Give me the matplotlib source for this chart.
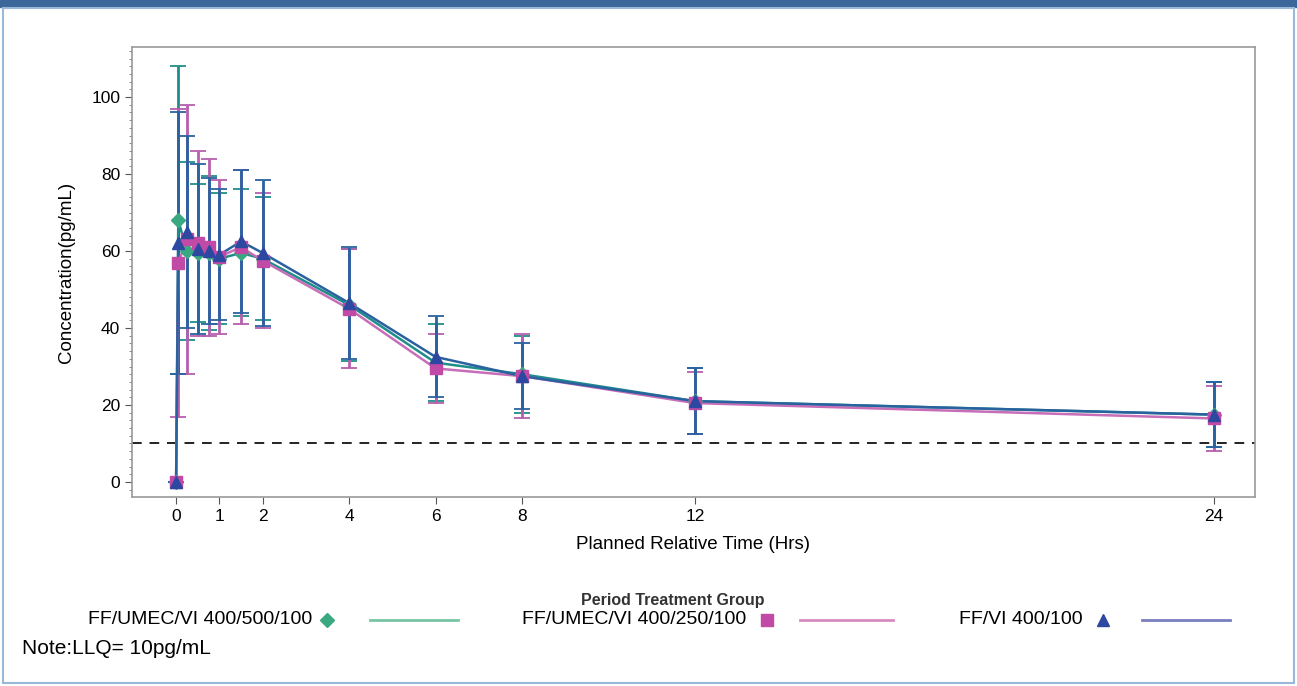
import numpy as np
import matplotlib
matplotlib.use("Agg")
import matplotlib.pyplot as plt
from matplotlib.lines import Line2D
from matplotlib.patches import Rectangle
from matplotlib.ticker import MultipleLocator

plt.rcParams['font.family'] = ['Liberation Sans', 'DejaVu Sans']

# planned time points (hrs)
times = [0, 0.05, 0.25, 0.5, 0.75, 1, 1.5, 2, 4, 6, 8, 12, 24]

# mean concentrations (pg/mL)
mean_500 = [0, 68, 60, 59.5, 59.5, 58, 59.5, 58, 46, 31, 28, 21, 17.5]
mean_250 = [0, 57, 63, 62, 61, 58.5, 61, 57.5, 45, 29.5, 27.5, 20.5, 16.5]
mean_fvi = [0, 62, 65, 60.5, 60, 59, 62.5, 59.5, 46.5, 32.5, 27.5, 21, 17.5]

# standard deviations
sd_500 = [0, 40, 23, 18, 20, 17, 16.5, 16, 14.5, 10, 10, 8.5, 8.5]
sd_250 = [0, 40, 35, 24, 23, 20, 20, 17.5, 15.5, 9, 11, 8, 8.5]
sd_fvi = [0, 34, 25, 22, 19, 17, 18.5, 19, 14.5, 10.5, 8.5, 8.5, 8.5]

labels = ["FF/UMEC/VI 400/500/100", "FF/UMEC/VI 400/250/100", "FF/VI 400/100"]
markers = ["D", "s", "^"]
mcolors = ["#3aa982", "#c04aa6", "#2c48a0"]
ecolors = ["#1f8d8a", "#b75fae", "#2a62a0"]
lcolors = ["#78c5a6", "#d58cc0", "#7a7fc0"]
LLQ = 10

fig = plt.figure(figsize=(12.97, 6.86), dpi=100)
ax = fig.add_axes([132/1297, 1-497/686, (1255-132)/1297, (497-47)/686])

series = [(mean_500, sd_500), (mean_250, sd_250), (mean_fvi, sd_fvi)]
for i, (m, s) in enumerate(series):
    ax.errorbar(times, m, yerr=s, fmt='none', ecolor=ecolors[i], elinewidth=2,
                capsize=6, capthick=1.3, zorder=2)
    ax.plot(times, m, color=ecolors[i] if i != 1 else "#c86db8", lw=1.8, zorder=3)
    ax.plot(times, m, linestyle='none', marker=markers[i], color=mcolors[i],
            markersize=8 if i != 0 else 7, zorder=4)

ax.axhline(LLQ, color='#222222', lw=1.4, ls=(0, (5, 4)), zorder=1)

ax.set_xlim(-1.02, 24.95)
ax.set_ylim(-3.9, 113)
ax.set_xticks([0, 1, 2, 4, 6, 8, 12, 24])
ax.set_yticks([0, 20, 40, 60, 80, 100])
ax.yaxis.set_minor_locator(MultipleLocator(2))
ax.tick_params(axis='both', which='major', labelsize=12.5, length=5, color='#555555')
ax.tick_params(axis='y', which='minor', length=2.5, color='#777777')
for sp in ax.spines.values():
    sp.set_color('#9a9a9a')
    sp.set_linewidth(1.2)

ax.set_xlabel("Planned Relative Time (Hrs)", fontsize=13.5, labelpad=9)
ax.set_ylabel("Concentration(pg/mL)", fontsize=13.5, labelpad=12)

# legend row
fig.text(673/1297, 1-600/686, "Period Treatment Group", fontsize=11.5,
         fontweight='bold', ha='center', va='center', color='#333333')
text_end = [312, 746, 1083]
mark_x = [327, 767, 1103]
line_x = [(370, 458), (800, 893), (1142, 1230)]
ly = 1 - 620/686
for i in range(3):
    fig.text(text_end[i]/1297, ly, labels[i], fontsize=14, ha='right', va='center')
    fig.add_artist(Line2D([mark_x[i]/1297], [ly], marker=markers[i], color=mcolors[i],
                          markersize=7 if i == 0 else 8, linestyle='none',
                          transform=fig.transFigure))
    fig.add_artist(Line2D([line_x[i][0]/1297, line_x[i][1]/1297], [ly, ly],
                          color=lcolors[i], lw=2, transform=fig.transFigure))

fig.text(22/1297, 1-649/686, "Note:LLQ= 10pg/mL", fontsize=15, ha='left', va='center')

# page frame
fig.add_artist(Rectangle((0, 1-7/686), 1, 7/686, color='#3b679a',
                         transform=fig.transFigure))
fig.add_artist(Rectangle((3/1297, 0.004), 1-6/1297, 1-11/686, fill=False,
                         edgecolor='#9ab8d8', lw=1.5, transform=fig.transFigure))

fig.savefig("out.png", dpi=100)
